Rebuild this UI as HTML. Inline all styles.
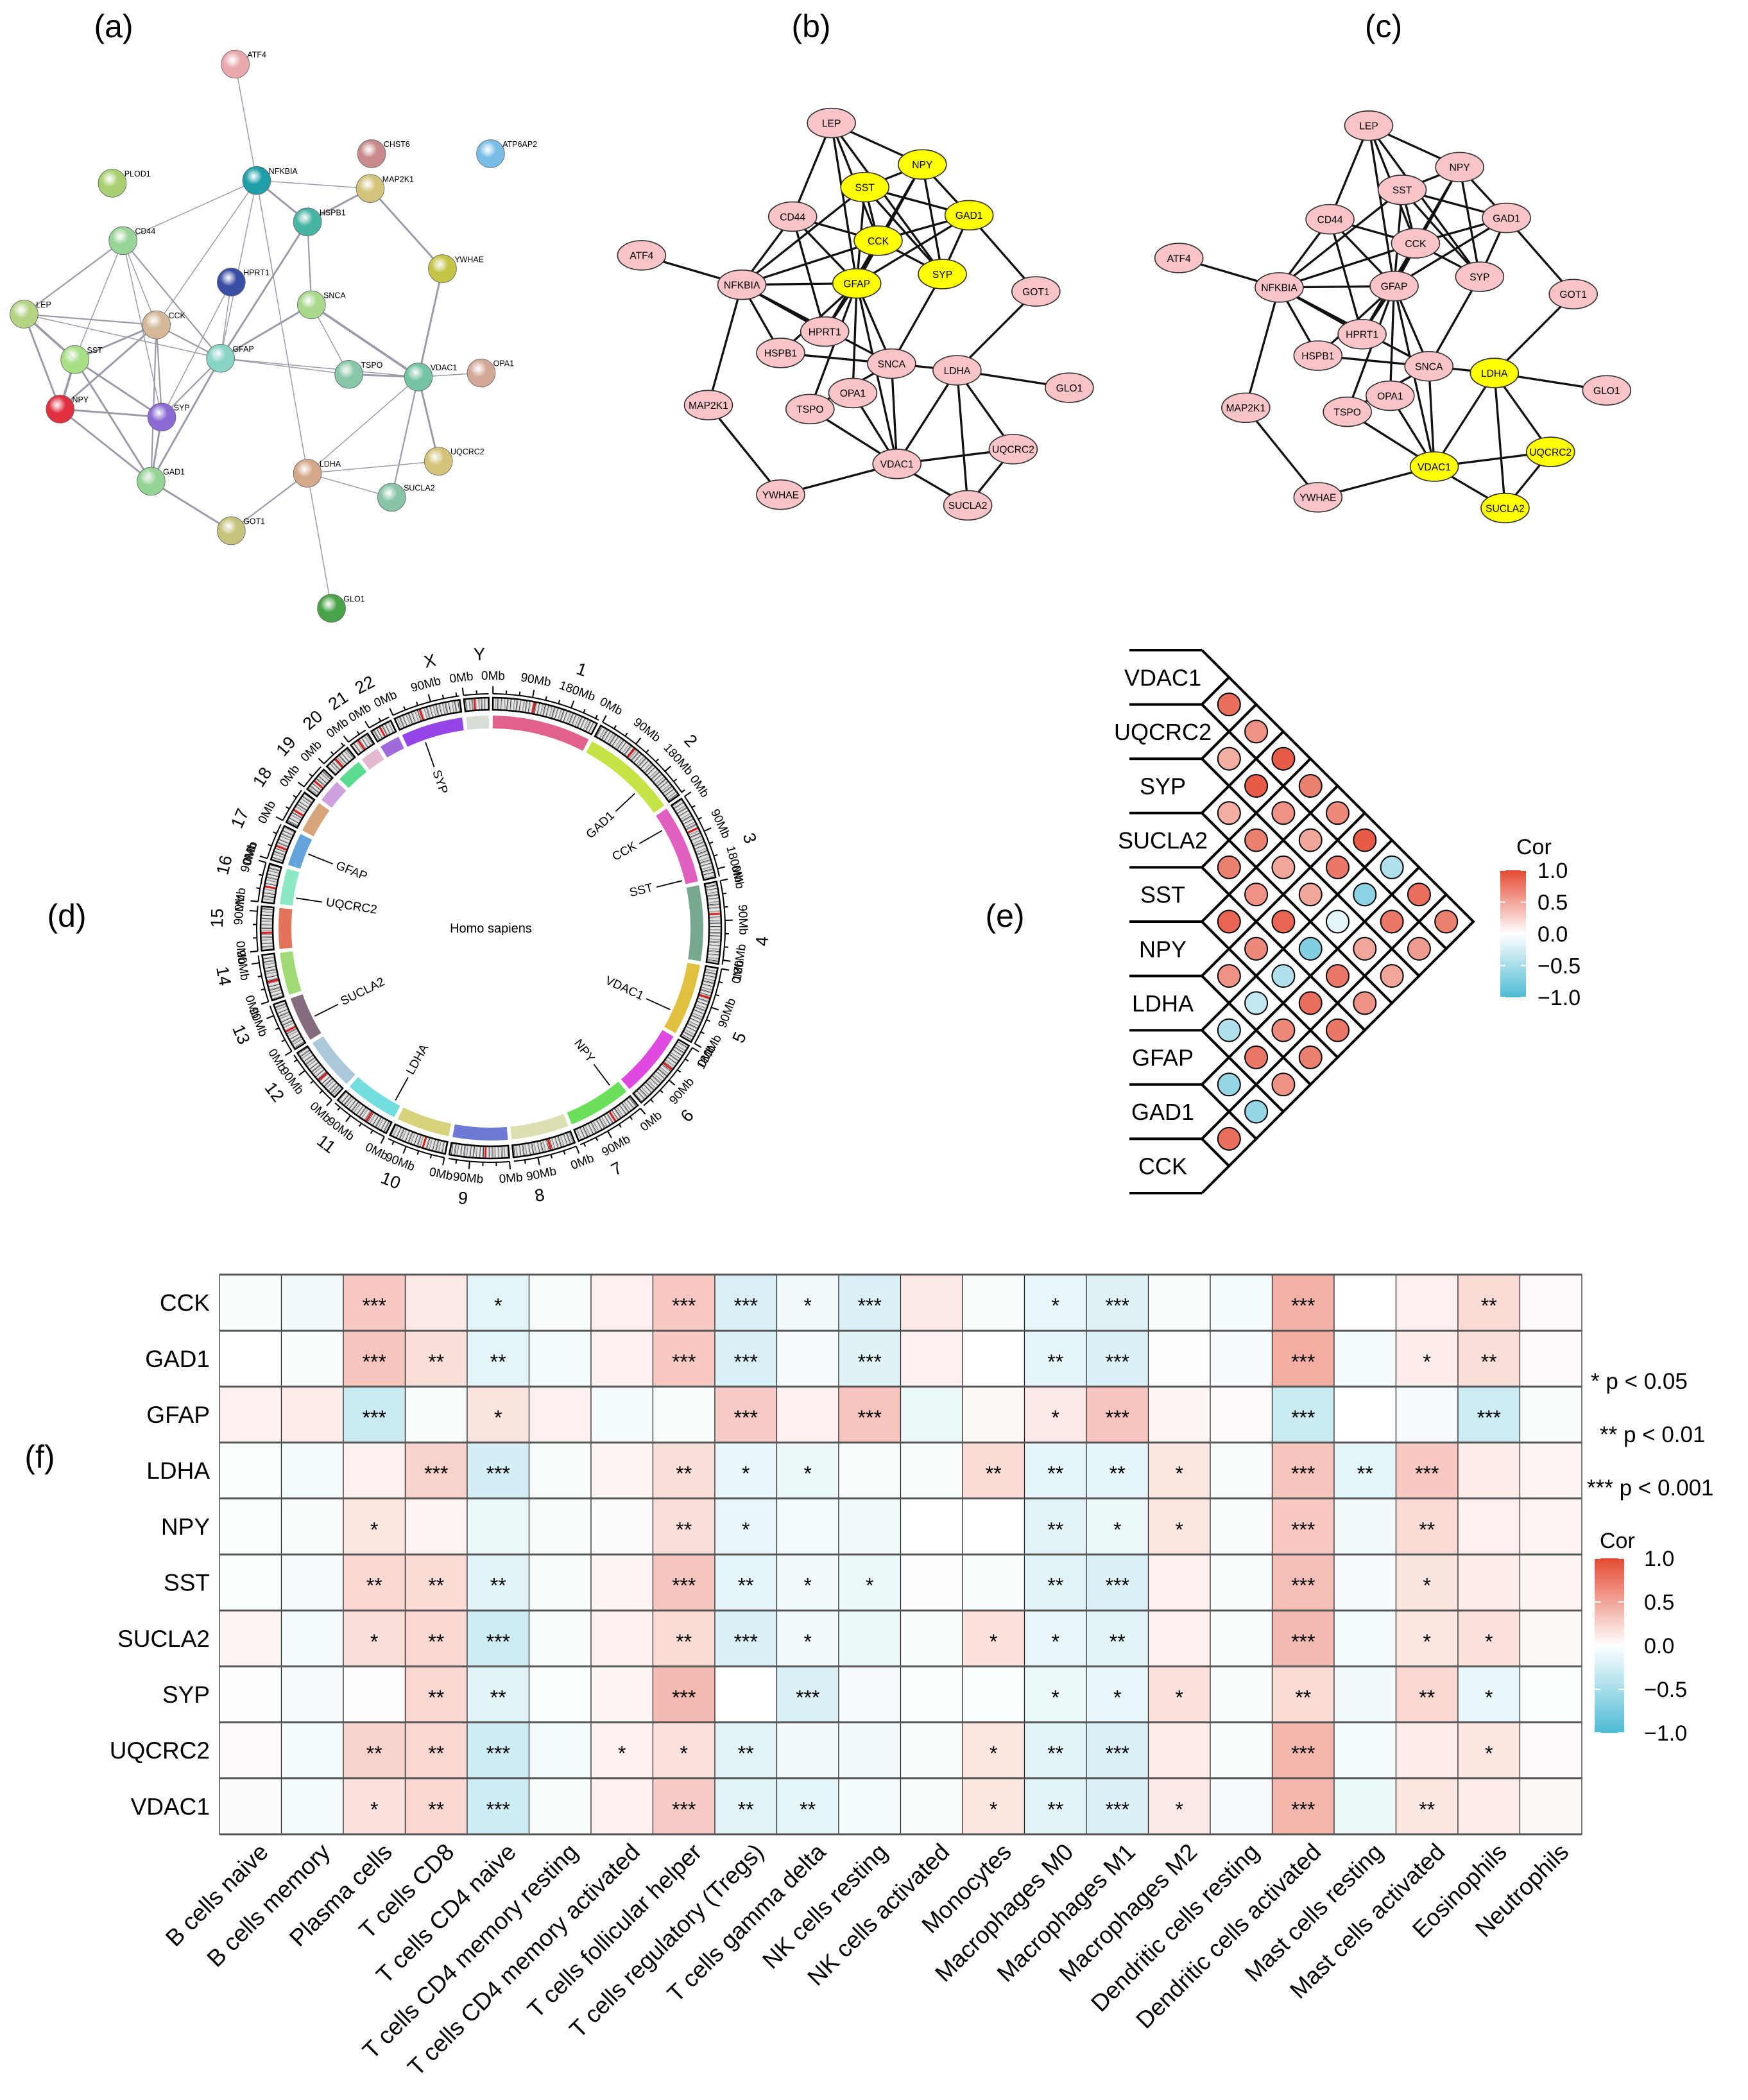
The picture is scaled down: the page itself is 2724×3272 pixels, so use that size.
<!DOCTYPE html>
<html><head><meta charset="utf-8">
<style>
html,body{margin:0;padding:0;background:#fff;}
svg{display:block;font-family:"Liberation Sans",Arial,sans-serif;}
</style></head>
<body>
<svg id="fig" xmlns="http://www.w3.org/2000/svg" width="2724" height="3272" viewBox="0 0 2724 3272">
<rect width="2724" height="3272" fill="#fff"/>
<text x="177" y="58" font-size="50" text-anchor="middle">(a)</text>
<text x="1264" y="58" font-size="50" text-anchor="middle">(b)</text>
<text x="2156" y="58" font-size="50" text-anchor="middle">(c)</text>
<text x="104" y="1444" font-size="50" text-anchor="middle">(d)</text>
<text x="1566" y="1444" font-size="50" text-anchor="middle">(e)</text>
<text x="62" y="2287" font-size="50" text-anchor="middle">(f)</text>
<g id="pa"></g>
<g id="pb"></g>
<g id="pc"></g>
<g id="pd"></g>
<g id="pe"></g>
<g id="pf"></g>
</svg>
<script>
const NS="http://www.w3.org/2000/svg";
function mk(tag,attrs,parent,txt){const e=document.createElementNS(NS,tag);for(const k in attrs)e.setAttribute(k,attrs[k]);if(txt!==undefined)e.textContent=txt;parent.appendChild(e);return e;}

/* ---------- Panel (a) STRING network (display units, scaled) ---------- */
const aNames=["ATF4","PLOD1","NFKBIA","CHST6","ATP6AP2","MAP2K1","HSPB1","CD44","YWHAE","HPRT1","CCK","SNCA","LEP","GFAP","SST","TSPO","VDAC1","OPA1","NPY","SYP","UQCRC2","GAD1","LDHA","SUCLA2","GOT1","GLO1"];
const aX=[176,84,192,278,367,277,230,92,331,173,117,233,18,165,56,261,313,360,45,121,328,113,230,293,173,248];
const aY=[48,137,135,115,115,141,166,180,201,211,243,228,235,268,269,280,282,279,306,312,345,360,354,372,397,455];
const aCol=["#E8A8AE","#A8D070","#1E9FA8","#C88A8A","#78BDE6","#D2C47A","#48B4A4","#98D498","#C4C448","#3A4EA6","#D4B898","#A8D88A","#B4D484","#88D4C4","#A8E088","#88C8A8","#74C4A4","#D4A898","#E03040","#8C6CD4","#D4C478","#94D494","#D4A888","#88C4A8","#C4C47C","#48A448"];
const aEdges=[["ATF4","NFKBIA",1],["NFKBIA","CD44",1],["NFKBIA","HSPB1",2],["NFKBIA","MAP2K1",1],["NFKBIA","GFAP",1],["NFKBIA","LDHA",1],["NFKBIA","CCK",1],["MAP2K1","HSPB1",2],["MAP2K1","YWHAE",2],["YWHAE","VDAC1",2],["HSPB1","SNCA",1.5],["HSPB1","GFAP",2],["CD44","LEP",1.5],["CD44","CCK",1],["CD44","GFAP",1.5],["CD44","SST",1],["CD44","SYP",1],["LEP","SST",2.5],["LEP","NPY",2],["LEP","CCK",1.5],["LEP","GFAP",1],["CCK","SST",2],["CCK","NPY",2],["CCK","GFAP",1.5],["CCK","SYP",1.5],["CCK","GAD1",1.5],["SST","NPY",2.5],["SST","SYP",2],["SST","GAD1",2],["NPY","SYP",2],["NPY","GAD1",2],["GFAP","SNCA",2],["GFAP","SYP",1.5],["GFAP","TSPO",1],["GFAP","VDAC1",1],["GFAP","GAD1",2],["SNCA","TSPO",1],["SNCA","VDAC1",2.5],["VDAC1","TSPO",2],["VDAC1","OPA1",1],["VDAC1","UQCRC2",2],["VDAC1","SUCLA2",1.5],["VDAC1","LDHA",1],["LDHA","GOT1",1.5],["LDHA","GLO1",1],["LDHA","SUCLA2",1],["LDHA","UQCRC2",1],["GOT1","GAD1",2],["SYP","GAD1",2],["HPRT1","GFAP",1],["HPRT1","SYP",1]];
(function(){
 const g=document.getElementById("pa");
 const s=mk("g",{transform:"scale(2.083)"},g);
 aEdges.forEach(e=>{const i=aNames.indexOf(e[0]),j=aNames.indexOf(e[1]);
  const l=mk("line",{x1:aX[i],y1:aY[i],x2:aX[j],y2:aY[j],stroke:"#9a9aa8","stroke-width":e[2]*0.7},s);
  
  });
 const defs=mk("defs",{},s);
 aNames.forEach((n,i)=>{
  const gr=mk("radialGradient",{id:"ga"+i,cx:"0.4",cy:"0.35",r:"0.65"},defs);
  mk("stop",{offset:"0","stop-color":"#ffffff","stop-opacity":"0.85"},gr);
  mk("stop",{offset:"0.45","stop-color":aCol[i]},gr);
  mk("stop",{offset:"1","stop-color":aCol[i],"stop-opacity":"1"},gr);
  const c=mk("circle",{cx:aX[i],cy:aY[i],r:10.5,fill:"url(#ga"+i+")",stroke:"#666","stroke-width":0.4},s);
  
  
  const t=mk("text",{x:aX[i]+9,y:aY[i]-5,"font-size":6},s,n);
  
  
 });
})();

/* ---------- Panels (b),(c) Cytoscape networks ---------- */
const bNames=["LEP","NPY","SST","GAD1","CD44","CCK","ATF4","SYP","GFAP","NFKBIA","GOT1","HPRT1","HSPB1","SNCA","LDHA","GLO1","MAP2K1","TSPO","OPA1","UQCRC2","VDAC1","YWHAE","SUCLA2"];
const bX=[622,690,647,725,593,657,480,705,641,555,775,617,584,667,716,800,530,606,638,758,671,584,724];
const bY=[92,123,140,161,162,180,191,205,212,213,218,248,264,272,277,290,303,306,294,336,347,370,378];
const bYellow=["SST","NPY","GAD1","CCK","GFAP","SYP"];
const cYellow=["LDHA","VDAC1","UQCRC2","SUCLA2"];
const bEdges=[["LEP","NPY"],["LEP","CD44"],["LEP","CCK"],["LEP","GFAP"],["LEP","SYP"],["NPY","SST"],["NPY","GAD1"],["NPY","CCK"],["NPY","GFAP"],["NPY","SYP"],["SST","GAD1"],["SST","CCK"],["SST","NFKBIA"],["SST","GFAP"],["SST","SYP"],["GAD1","CCK"],["GAD1","GFAP"],["GAD1","SYP"],["GAD1","GOT1"],["CD44","NFKBIA"],["CD44","CCK"],["CD44","GFAP"],["CD44","HPRT1"],["CCK","GFAP"],["CCK","SYP"],["CCK","NFKBIA"],["CCK","HPRT1"],["ATF4","NFKBIA"],["NFKBIA","GFAP"],["NFKBIA","HSPB1"],["NFKBIA","MAP2K1"],["NFKBIA","HPRT1"],["NFKBIA","SNCA"],["GFAP","HPRT1"],["GFAP","HSPB1"],["GFAP","SNCA"],["GFAP","TSPO"],["GFAP","VDAC1"],["GFAP","OPA1"],["SYP","SNCA"],["GOT1","LDHA"],["HSPB1","SNCA"],["SNCA","TSPO"],["SNCA","VDAC1"],["SNCA","LDHA"],["LDHA","GLO1"],["LDHA","VDAC1"],["LDHA","UQCRC2"],["LDHA","SUCLA2"],["MAP2K1","YWHAE"],["YWHAE","VDAC1"],["TSPO","VDAC1"],["OPA1","VDAC1"],["VDAC1","UQCRC2"],["VDAC1","SUCLA2"],["UQCRC2","SUCLA2"]];
function drawNet(id,dx,dy,yellow,tag){
 const g=document.getElementById(id);
 const s=mk("g",{transform:"scale(2.083) translate("+dx+","+dy+")"},g);
 bEdges.forEach(e=>{const i=bNames.indexOf(e[0]),j=bNames.indexOf(e[1]);
  const l=mk("line",{x1:bX[i],y1:bY[i],x2:bX[j],y2:bY[j],stroke:"#111","stroke-width":1.6},s);
  
  });
 bNames.forEach((n,i)=>{
  const el=mk("ellipse",{cx:bX[i],cy:bY[i],rx:18,ry:11,fill:yellow.includes(n)?"#FFFF00":"#F8C4C8",stroke:"#333","stroke-width":0.8},s);
  
  
  const t=mk("text",{x:bX[i],y:bY[i]+2.8,"font-size":7.5,"text-anchor":"middle"},s,n);
  
  
 });
}
drawNet("pb",0,0,bYellow,"b");
drawNet("pc",402,2,cYellow,"c");

/* ---------- Panel (d) circos ---------- */
const chrNames=["1","2","3","4","5","6","7","8","9","10","11","12","13","14","15","16","17","18","19","20","21","22","X","Y"];
const chrLen=[248,242,198,190,181,171,159,145,138,134,135,133,114,107,102,90,83,80,59,64,47,51,156,57];
const chrCol=["#E0608E","#C5E346","#E05FBF","#76A98E","#E0C13F","#E049E0","#6AE05A","#DCE0B0","#6D7AD5","#D8D27C","#74DDE0","#ABC7DA","#846C7C","#A0DA75","#E3745A","#8EE8C4","#62A4DB","#D9A47A","#CFA0DE","#5ADB92","#E4B8CF","#9F6BDB","#9544E6","#D8DDD6"];
const geneNames=["SYP","GAD1","CCK","SST","VDAC1","NPY","LDHA","SUCLA2","UQCRC2","GFAP"];
const geneChr=["X","2","3","3","5","7","11","13","16","17"];
const geneMb=[49,170,42,187,133,24,18,48,21,44];
(function(){
 const g=document.getElementById("pd");
 const cx=765,cy=1446,gap=1.05,start=0.5;
 const total=chrLen.reduce((a,b)=>a+b,0);
 const dpm=(360-chrLen.length*gap)/total;
 const pol=(r,d)=>{const a=d*Math.PI/180;return [cx+r*Math.sin(a),cy-r*Math.cos(a)];};
 const arc=(r1,r2,a1,a2)=>{const L=(a2-a1)>180?1:0;const p1=pol(r2,a1),p2=pol(r2,a2),p3=pol(r1,a2),p4=pol(r1,a1);
   return `M${p1}A${r2},${r2} 0 ${L} 1 ${p2}L${p3}A${r1},${r1} 0 ${L} 0 ${p4}Z`;};
 const starts=[];let a=start;
 chrLen.forEach((L,i)=>{starts.push(a);a+=L*dpm+gap;});
 const txtRot=d=>{let r=d;if(d>90&&d<270)r=d-180;return r;};
 chrLen.forEach((L,i)=>{
  const a1=starts[i],a2=a1+L*dpm;
  const c=mk("path",{d:arc(311,331,a1,a2),fill:chrCol[i]},g);
  
  
  const k=mk("path",{d:arc(340,359,a1,a2),fill:"#e6e6e6",stroke:"none"},g);
  
  
  for(let m=1;m<L-1;m+=2){
   const h=(m*7+i*13)%11;
   if(h<6){const sh=h<2?"#111":(h<4?"#666":"#aaa");
    const p=mk("path",{d:arc(341,358,a1+m*dpm,a1+(m+1.1)*dpm),fill:sh},g);
    
    }
  }
  const cen=a1+L*0.38*dpm;
  const r=mk("path",{d:arc(341,358,cen,cen+0.5),fill:"#e02020"},g);
  
  
  const o=mk("path",{d:arc(340,359,a1,a2),fill:"none",stroke:"#000","stroke-width":2.5},g);
  
  
  const p1=pol(365,a1),p2=pol(365,a2);
  const ax=mk("path",{d:`M${p1}A365,365 0 0 1 ${p2}`,fill:"none",stroke:"#000","stroke-width":2},g);
  
  
  for(let m=0;m<=L;m+=30){
   const d=a1+m*dpm,maj=(m%90===0);
   const q1=pol(365,d),q2=pol(maj?377:371,d);
   const t=mk("line",{x1:q1[0],y1:q1[1],x2:q2[0],y2:q2[1],stroke:"#000","stroke-width":2},g);
   
   
   if(maj){const q=pol(392,d);
    const tl=mk("text",{x:q[0],y:q[1],"font-size":19,"text-anchor":"middle","dominant-baseline":"middle",transform:`rotate(${txtRot(d)} ${q[0]} ${q[1]})`},g,m+"Mb");
    
    }
  }
  const mid=a1+(a2-a1)*0.7;
  const q=pol(425,mid);
  const n=mk("text",{x:q[0],y:q[1],"font-size":27,"text-anchor":"middle","dominant-baseline":"middle",transform:`rotate(${txtRot(mid)} ${q[0]} ${q[1]})`},g,chrNames[i]);
  
  
 });
 geneNames.forEach((gn,i)=>{
  const ci=chrNames.indexOf(geneChr[i]);
  const d=starts[ci]+geneMb[i]*dpm;
  const p1=pol(307,d),p2=pol(266,d),q=pol(260,d);
  const l=mk("line",{x1:p1[0],y1:p1[1],x2:p2[0],y2:p2[1],stroke:"#000","stroke-width":1.8},g);
  
  
  const right=d<180;
  const rot=right?d-90:d-270;
  const t=mk("text",{x:q[0],y:q[1],"font-size":19,"text-anchor":right?"end":"start","dominant-baseline":"middle",transform:`rotate(${rot} ${q[0]} ${q[1]})`},g,gn);
  
  
 });
 const hs=mk("text",{x:cx,y:cy+7,"font-size":20,"text-anchor":"middle"},g,"Homo sapiens");
 
 
})();

/* ---------- color scales ---------- */
function corCol(v){v=Math.max(-1,Math.min(1,v));let t,c;
 if(v>=0){t=v;c=[228,74,51];}else{t=-v;c=[77,187,213];}
 const r=Math.round(255+(c[0]-255)*t),g=Math.round(255+(c[1]-255)*t),b=Math.round(255+(c[2]-255)*t);
 return `rgb(${r},${g},${b})`;}

/* ---------- Panel (e) correlation triangle ---------- */
const eGenes=["VDAC1","UQCRC2","SYP","SUCLA2","SST","NPY","LDHA","GFAP","GAD1","CCK"];
const eI=[0,1,2,3,4,5,6,7,8, 0,1,2,3,4,5,6,7, 0,1,2,3,4,5,6, 0,1,2,3,4,5, 0,1,2,3,4, 0,1,2,3, 0,1,2, 0,1, 0];
const eJ=[1,2,3,4,5,6,7,8,9, 2,3,4,5,6,7,8,9, 3,4,5,6,7,8,9, 4,5,6,7,8,9, 5,6,7,8,9, 6,7,8,9, 7,8,9, 8,9, 9];
const eR=[0.8,0.45,0.45,0.7,0.85,0.6,-0.45,-0.6,0.8, 0.6,0.9,0.7,0.6,0.65,-0.35,0.75,-0.6, 0.9,0.6,0.5,0.85,-0.45,0.65,0.6, 0.7,0.5,0.5,-0.7,0.8,0.7, 0.65,0.75,-0.15,0.75,0.75, 0.9,-0.65,0.5,0.6, -0.45,0.75,0.5, 0.8,0.55, 0.7];
(function(){
 const g=document.getElementById("pe");
 const top=1013,h=42.3,x0=1873,xl=1760;
 const yc=i=>top+h+2*h*i;
 for(let i=0;i<=eGenes.length;i++){
  const y=top+2*h*i;
  const l=mk("line",{x1:xl,y1:y,x2:x0,y2:y,stroke:"#000","stroke-width":4},g);
  
  
 }
 eGenes.forEach((n,i)=>{
  const p=mk("polyline",{points:`${x0},${yc(i)-h} ${x0+h},${yc(i)} ${x0},${yc(i)+h}`,fill:"none",stroke:"#000","stroke-width":4},g);
  
  
  const t=mk("text",{x:1812,y:yc(i)+13,"font-size":36,"text-anchor":"middle"},g,n);
  
  
 });
 eI.forEach((i,k)=>{
  const j=eJ[k];const x=x0+(j-i)*h,y=(yc(i)+yc(j))/2;
  const d=mk("polygon",{points:`${x-h},${y} ${x},${y-h} ${x+h},${y} ${x},${y+h}`,fill:"#fff",stroke:"#000","stroke-width":4},g);
  
  
 });
 eI.forEach((i,k)=>{
  const j=eJ[k];const x=x0+(j-i)*h,y=(yc(i)+yc(j))/2;
  const c=mk("circle",{cx:x,cy:y,r:17.5,fill:corCol(eR[k]),stroke:"#000","stroke-width":2},g);
  
  
 });
 colorbar(g,2338,1356,40,198,2396,2363,1331,"e");
})();
function colorbar(g,x,y,w,hh,lx,tx,ty,tag){
 let defs=mk("defs",{},g);
 const gr=mk("linearGradient",{id:"cb"+tag,x1:0,y1:0,x2:0,y2:1},defs);
 [[0,1],[0.25,0.5],[0.5,0],[0.75,-0.5],[1,-1]].forEach(s=>mk("stop",{offset:s[0],"stop-color":corCol(s[1])},gr));
 const r=mk("rect",{x:x,y:y,width:w,height:hh,fill:"url(#cb"+tag+")"},g);
 
 
 const t=mk("text",{x:tx,y:ty,"font-size":34},g,"Cor");
 
 
 ["1.0","0.5","0.0","\u22120.5","\u22121.0"].forEach((s,i)=>{
  const yy=y+hh*i/4;
  mk("line",{x1:x,y1:yy,x2:x+w*0.2,y2:yy,stroke:"#fff","stroke-width":2},g);
  mk("line",{x1:x+w*0.8,y1:yy,x2:x+w,y2:yy,stroke:"#fff","stroke-width":2},g);
  const l=mk("text",{x:lx,y:yy+12,"font-size":34},g,s);
  
  
 });
}

/* ---------- Panel (f) heatmap ---------- */
const fRows=["CCK","GAD1","GFAP","LDHA","NPY","SST","SUCLA2","SYP","UQCRC2","VDAC1"];
const fCols=["B cells naive","B cells memory","Plasma cells","T cells CD8","T cells CD4 naive","T cells CD4 memory resting","T cells CD4 memory activated","T cells follicular helper","T cells regulatory (Tregs)","T cells gamma delta","NK cells resting","NK cells activated","Monocytes","Macrophages M0","Macrophages M1","Macrophages M2","Dendritic cells resting","Dendritic cells activated","Mast cells resting","Mast cells activated","Eosinophils","Neutrophils"];
const fVal=[
[-0.03,-0.08,0.3,0.12,-0.15,-0.04,0.08,0.3,-0.22,-0.08,-0.2,0.12,-0.04,-0.12,-0.18,-0.04,-0.06,0.42,0,0.08,0.2,0.03],
[0,-0.03,0.32,0.18,-0.15,-0.06,0.08,0.3,-0.22,-0.05,-0.18,0.08,0,-0.14,-0.2,0.01,-0.05,0.45,-0.06,0.1,0.18,0.03],
[0.08,0.1,-0.3,-0.04,0.15,0.08,-0.06,-0.04,0.28,0.08,0.32,-0.1,0.04,0.12,0.32,0.05,0.03,-0.3,0,-0.05,-0.28,-0.03],
[-0.02,-0.06,0.08,0.25,-0.25,-0.03,0.06,0.18,-0.12,-0.1,-0.04,-0.04,0.2,-0.14,-0.14,0.14,-0.04,0.32,-0.15,0.3,0.1,0.06],
[-0.02,-0.04,0.14,0.06,-0.1,-0.03,0.02,0.18,-0.12,-0.06,-0.08,0,0,-0.16,-0.1,0.14,-0.04,0.3,-0.08,0.2,0.08,0.06],
[-0.02,-0.05,0.22,0.2,-0.16,-0.04,0.06,0.32,-0.14,-0.08,-0.1,0.01,-0.03,-0.16,-0.2,0.08,-0.04,0.36,-0.05,0.15,0.1,0.05],
[0.05,-0.06,0.18,0.22,-0.28,-0.04,0.08,0.2,-0.2,-0.08,-0.1,-0.04,0.16,-0.12,-0.16,0.08,-0.04,0.38,-0.06,0.14,0.16,0.04],
[-0.01,-0.05,0.01,0.22,-0.16,-0.02,0.05,0.38,0,-0.2,-0.05,-0.02,-0.02,-0.1,-0.12,0.16,-0.03,0.2,-0.08,0.22,-0.12,-0.02],
[0.03,-0.06,0.24,0.22,-0.28,-0.06,0.08,0.16,-0.16,-0.08,-0.08,-0.04,0.14,-0.16,-0.22,0.1,-0.04,0.4,-0.06,0.1,0.14,0.03],
[0.02,-0.06,0.16,0.22,-0.28,-0.03,0.08,0.28,-0.16,-0.14,-0.06,-0.04,0.14,-0.16,-0.2,0.12,-0.05,0.4,-0.1,0.14,0.1,0.04]];
const fStar=[
["","","***","","*","","","***","***","*","***","","","*","***","","","***","","","**",""],
["","","***","**","**","","","***","***","","***","","","**","***","","","***","","*","**",""],
["","","***","","*","","","","***","","***","","","*","***","","","***","","","***",""],
["","","","***","***","","","**","*","*","","","**","**","**","*","","***","**","***","",""],
["","","*","","","","","**","*","","","","","**","*","*","","***","","**","",""],
["","","**","**","**","","","***","**","*","*","","","**","***","","","***","","*","",""],
["","","*","**","***","","","**","***","*","","","*","*","**","","","***","","*","*",""],
["","","","**","**","","","***","","***","","","","*","*","*","","**","","**","*",""],
["","","**","**","***","","*","*","**","","","","*","**","***","","","***","","","*",""],
["","","*","**","***","","","***","**","**","","","*","**","***","*","","***","","**","",""]];
(function(){
 const g=document.getElementById("pf");
 const L=342,R=2465,T=1986,B=2858;
 const cw=(R-L)/fCols.length,rh=(B-T)/fRows.length;
 const xs=j=>L+j*cw, ys=i=>T+i*rh;
 fRows.forEach((rn,i)=>{
  fCols.forEach((cn,j)=>{
   const r=mk("rect",{x:xs(j),y:ys(i),width:cw,height:rh,fill:corCol(fVal[i][j]),stroke:"#222","stroke-width":1.2},g);
   
   
   if(fStar[i][j]){const t=mk("text",{x:xs(j)+cw/2,y:ys(i)+rh/2+16,"font-size":32,"text-anchor":"middle"},g,fStar[i][j]);
    
    }
  });
  const t=mk("text",{x:327,y:ys(i)+rh/2+13,"font-size":37,"text-anchor":"end"},g,rn);
  
  
 });
 for(let i=0;i<=fRows.length;i++){
  const l=mk("line",{x1:L,y1:ys(i),x2:R,y2:ys(i),stroke:"#555","stroke-width":3},g);
  
  
 }
 fCols.forEach((cn,j)=>{
  const x=xs(j)+cw/2+30,y=2888;
  const t=mk("text",{x:x,y:y,"font-size":37,"text-anchor":"end",transform:`rotate(-45 ${x} ${y})`},g,cn);
  
  
 });
 [["* p < 0.05",2479,2164],["** p < 0.01",2493,2247],["*** p < 0.001",2473,2330]].forEach(s=>{
  const t=mk("text",{x:s[1],y:s[2],"font-size":35},g,s[0]);
  
  
 });
 colorbar(g,2485,2428,46,272,2562,2493,2412,"f");
})();
</script>
</body></html>
